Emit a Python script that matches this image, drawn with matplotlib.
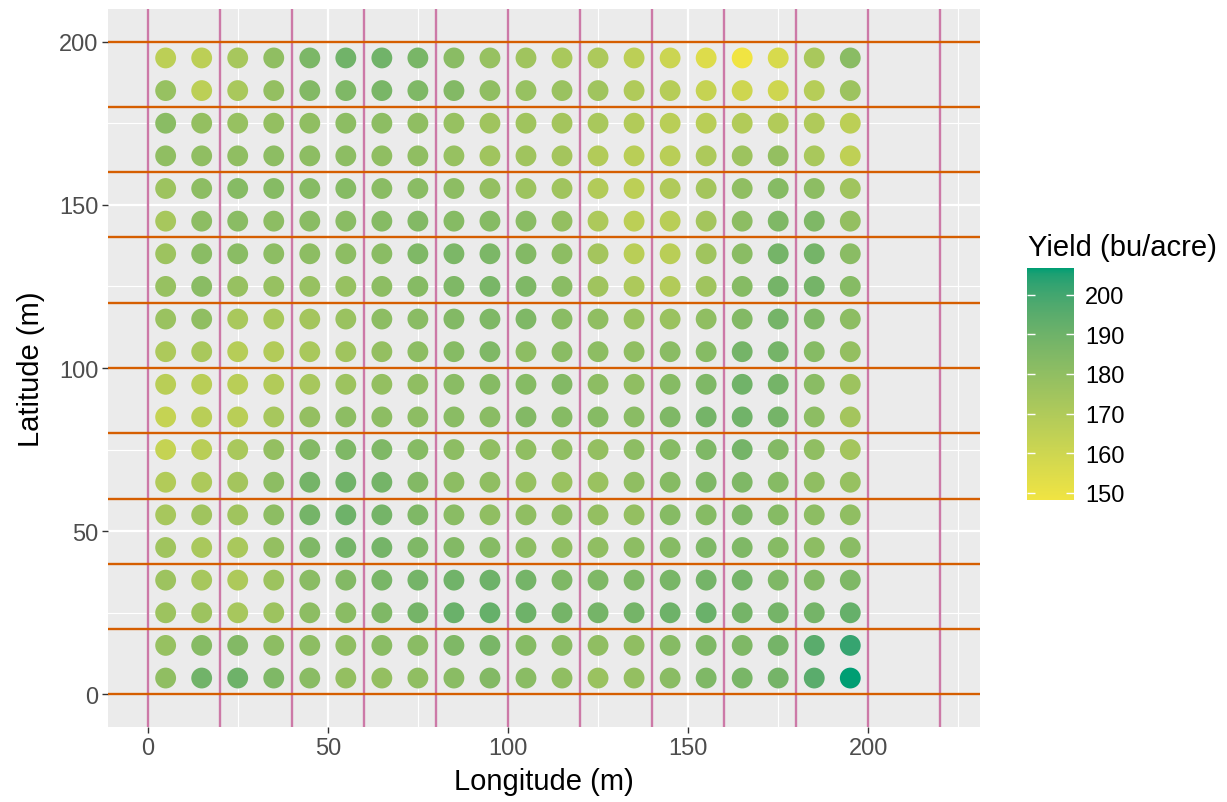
import numpy as np
import matplotlib
matplotlib.use('Agg')
import matplotlib.pyplot as plt
from matplotlib.colors import ListedColormap, to_rgb

plt.rcParams['font.family'] = ['Liberation Sans', 'DejaVu Sans']

# point centres (m)
lon = [5, 15, 25, 35, 45, 55, 65, 75, 85, 95,
       105, 115, 125, 135, 145, 155, 165, 175, 185, 195]
lat = [195, 185, 175, 165, 155, 145, 135, 125, 115, 105,
       95, 85, 75, 65, 55, 45, 35, 25, 15, 5]

# yield (bu/acre), one row per latitude, top row first
yield_grid = [
    [166, 166, 173, 180, 186, 189, 189, 187, 182, 178, 175, 172, 171, 166, 161, 155, 148.2, 157, 172, 182],
    [178, 166, 172, 179, 184, 185, 187, 185, 184, 180, 178, 177, 175, 170, 168, 163, 160, 160, 168, 176],
    [182, 179, 178, 179, 180, 181, 181, 180, 178, 175, 175, 174, 172, 169, 167, 167, 169, 169, 170, 166],
    [180, 180, 180, 181, 181, 181, 180, 180, 178, 175, 175, 174, 169, 167, 167, 171, 176, 179, 172, 165],
    [176, 181, 183, 183, 183, 183, 182, 182, 181, 179, 176, 175, 169, 166, 170, 174, 180, 183, 181, 175],
    [173, 181, 182, 181, 182, 182, 183, 184, 183, 183, 182, 179, 171, 166, 167, 174, 181, 185, 185, 179],
    [176, 182, 182, 181, 181, 181, 182, 185, 186, 186, 184, 181, 174, 167, 167, 175, 182, 188, 188, 182],
    [178, 182, 178, 178, 178, 178, 181, 183, 185, 187, 185, 182, 175, 171, 169, 175, 183, 188, 188, 183],
    [177, 180, 172, 172, 174, 177, 181, 182, 184, 185, 185, 182, 180, 177, 177, 180, 184, 188, 185, 181],
    [171, 172, 168, 169, 172, 175, 179, 181, 183, 185, 181, 182, 181, 180, 182, 183, 188, 188, 183, 179],
    [167, 167, 167, 169, 173, 176, 179, 180, 182, 183, 183, 184, 181, 180, 183, 185, 189, 188, 182, 176],
    [163, 167, 167, 173, 179, 181, 181, 181, 182, 182, 184, 183, 183, 182, 185, 188, 189, 188, 181, 174],
    [163, 167, 172, 179, 184, 185, 185, 183, 181, 180, 180, 180, 179, 181, 183, 185, 188, 184, 180, 174],
    [169, 171, 174, 181, 188, 189, 188, 184, 181, 180, 178, 177, 177, 180, 183, 185, 185, 183, 180, 178],
    [173, 175, 175, 181, 188, 190, 188, 185, 182, 180, 180, 180, 179, 179, 183, 183, 185, 183, 181, 180],
    [175, 172, 172, 179, 185, 188, 188, 185, 184, 183, 181, 180, 180, 181, 183, 185, 185, 183, 181, 182],
    [176, 173, 171, 176, 182, 184, 187, 188, 189, 190, 188, 185, 185, 185, 187, 188, 188, 185, 184, 185],
    [176, 176, 173, 176, 181, 182, 185, 188, 191, 192, 190, 188, 188, 188, 190, 191, 188, 188, 188, 192],
    [178, 183, 184, 181, 181, 180, 182, 182, 185, 187, 183, 182, 180, 180, 183, 185, 185, 188, 195, 202],
    [180, 189, 190, 185, 182, 179, 179, 180, 182, 184, 182, 180, 177, 179, 182, 185, 187, 188, 195, 206.7],
]

# plot boundaries
col_edges = [0, 20, 40, 60, 80, 100, 120, 140, 160, 180, 200, 220]
row_edges = [0, 20, 40, 60, 80, 100, 120, 140, 160, 180, 200]

low_col = '#F0E442'
high_col = '#009E73'

M = np.array([[0.4124, 0.3576, 0.1805],
              [0.2126, 0.7152, 0.0722],
              [0.0193, 0.1192, 0.9505]])
WHITE = np.array([0.95047, 1.0, 1.08883])


def rgb_to_lab(rgb):
    c = np.asarray(rgb)
    lin = np.where(c <= 0.04045, c / 12.92, ((c + 0.055) / 1.055) ** 2.4)
    xyz = M @ lin / WHITE
    f = np.where(xyz > (6 / 29) ** 3, np.cbrt(xyz), xyz / (3 * (6 / 29) ** 2) + 4 / 29)
    return np.array([116 * f[1] - 16, 500 * (f[0] - f[1]), 200 * (f[1] - f[2])])


def lab_to_rgb(lab):
    fy = (lab[0] + 16) / 116
    f = np.array([fy + lab[1] / 500, fy, fy - lab[2] / 200])
    xyz = np.where(f > 6 / 29, f ** 3, 3 * (6 / 29) ** 2 * (f - 4 / 29)) * WHITE
    lin = np.linalg.solve(M, xyz)
    lin = np.clip(lin, 0, None)
    c = np.where(lin <= 0.0031308, 12.92 * lin, 1.055 * lin ** (1 / 2.4) - 0.055)
    return np.clip(c, 0, 1)


lab_lo = rgb_to_lab(to_rgb(low_col))
lab_hi = rgb_to_lab(to_rgb(high_col))
cmap = ListedColormap([lab_to_rgb(lab_lo + t * (lab_hi - lab_lo))
                       for t in np.linspace(0, 1, 256)])

fig = plt.figure(figsize=(12.27, 8.03), dpi=100)
ax = fig.add_axes([108 / 1227, 1 - 728 / 803, 872 / 1227, 718 / 803])
ax.set_facecolor('#EBEBEB')

X, Y = np.meshgrid(lon, lat)
vals = np.array(yield_grid)
sc = ax.scatter(X.ravel(), Y.ravel(), c=vals.ravel(), cmap=cmap,
                vmin=vals.min(), vmax=vals.max(), s=225, linewidths=0, zorder=3)

for x in col_edges:
    ax.axvline(x, color='#CC79A7', lw=1.7, zorder=2)
for y in row_edges:
    ax.axhline(y, color='#D55E00', lw=1.7, zorder=2)

ax.set_xlim(-11, 231)
ax.set_ylim(-10, 210)
ax.set_xticks([0, 50, 100, 150, 200])
ax.set_yticks([0, 50, 100, 150, 200])
ax.set_xticks([25, 75, 125, 175, 225], minor=True)
ax.set_yticks([25, 75, 125, 175], minor=True)
ax.grid(which='major', color='white', lw=1.6, zorder=1)
ax.grid(which='minor', color='white', lw=0.8, zorder=1)
ax.set_axisbelow(True)
for s in ax.spines.values():
    s.set_visible(False)
ax.tick_params(which='major', length=4, width=1, color='#333333',
               labelsize=17, labelcolor='#4D4D4D', pad=3)
ax.tick_params(which='minor', length=0)

ax.set_xlabel('Longitude (m)', fontsize=21, labelpad=6)
ax.set_ylabel('Latitude (m)', fontsize=21, labelpad=10)

cax = fig.add_axes([1027 / 1227, 1 - 501 / 803, 47 / 1227, 232 / 803])
cb = fig.colorbar(sc, cax=cax, ticks=[150, 160, 170, 180, 190, 200])
cb.outline.set_visible(False)
cax.yaxis.set_ticks_position('both')
cax.tick_params(which='major', direction='in', color='white', length=6, width=1,
                labelsize=17, labelcolor='black', pad=8,
                left=True, right=True, labelleft=False, labelright=True)
cax.minorticks_off()
fig.text(1028 / 1227, 1 - 262 / 803, 'Yield (bu/acre)', fontsize=21,
         ha='left', va='bottom')

fig.savefig('out.png', dpi=100)
